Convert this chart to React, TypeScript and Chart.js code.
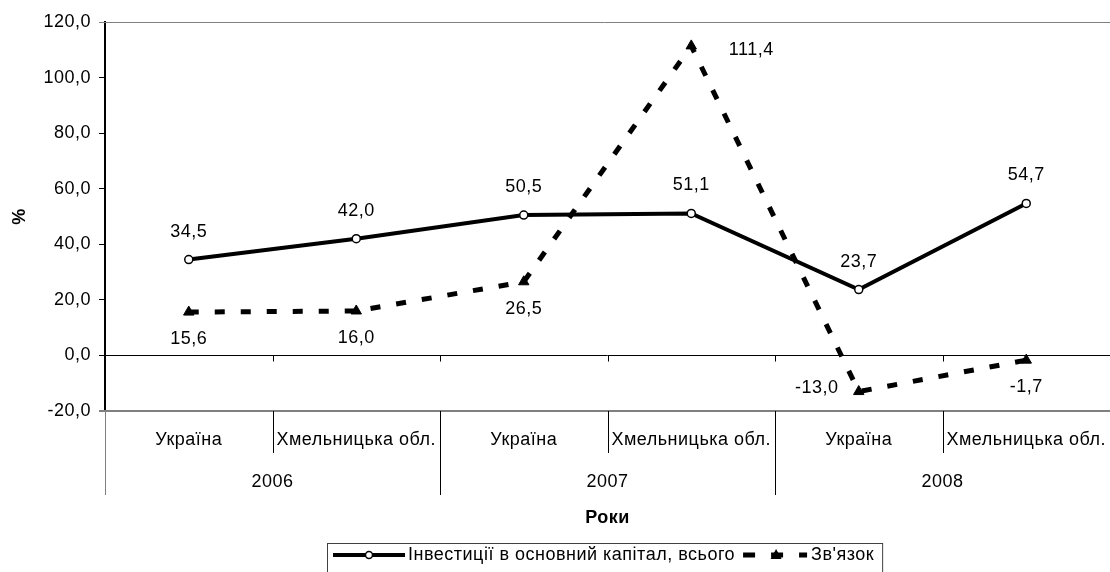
import React, { useEffect, useRef } from 'react';
import { Chart, registerables } from 'chart.js';

Chart.register(...registerables);

const categories = ['Україна', 'Хмельницька обл.', 'Україна', 'Хмельницька обл.', 'Україна', 'Хмельницька обл.'];
const years = ['2006', '2007', '2008'];
const investValues = [34.5, 42.0, 50.5, 51.1, 23.7, 54.7];
const commValues = [15.6, 16.0, 26.5, 111.4, -13.0, -1.7];
const commLabelSides = ['below', 'below', 'below', 'right', 'left', 'below'];
const seriesNames = ['Інвестиції в основний капітал, всього', "Зв'язок"];
const yMin = -20;
const yMax = 120;
const yStep = 20;
const xTitle = 'Роки';
const yTitle = '%';

const FAMILY = '"Liberation Sans", Arial, sans-serif';
const FONT = `18px ${FAMILY}`;
const BOLD = `bold 18px ${FAMILY}`;
const fmt = (v: number) => v.toFixed(1).replace('.', ',');

const decorPlugin = {
  id: 'decor',
  beforeDraw(chart: any) {
    (chart.ctx as any).letterSpacing = '0.5px';
  },
  beforeDatasetsDraw(chart: any) {
    const { ctx, chartArea: a, scales } = chart;
    const x = scales.x;
    const y = scales.y;
    ctx.save();
    ctx.strokeStyle = '#808080';
    ctx.lineWidth = 1;
    ctx.beginPath();
    ctx.moveTo(99, Math.round(a.top) + 0.5);
    ctx.lineTo(a.right, Math.round(a.top) + 0.5);
    ctx.stroke();
    ctx.lineWidth = 2;
    ctx.beginPath();
    ctx.moveTo(99, Math.round(a.bottom));
    ctx.lineTo(a.right, Math.round(a.bottom));
    ctx.stroke();
    const y0 = Math.round(y.getPixelForValue(0)) + 0.5;
    ctx.strokeStyle = '#000';
    ctx.lineWidth = 1;
    ctx.beginPath();
    ctx.moveTo(a.left, y0);
    ctx.lineTo(a.right, y0);
    for (let i = 0; i < categories.length - 1; i++) {
      const bx = Math.round((x.getPixelForValue(i) + x.getPixelForValue(i + 1)) / 2) + 0.5;
      ctx.moveTo(bx, y0);
      ctx.lineTo(bx, y0 + 6);
    }
    ctx.stroke();
    ctx.restore();
  },
  afterDatasetsDraw(chart: any) {
    const { ctx } = chart;
    ctx.save();
    ctx.font = FONT;
    ctx.fillStyle = '#000';
    ctx.textAlign = 'center';
    ctx.textBaseline = 'middle';
    const m0 = chart.getDatasetMeta(0);
    m0.data.forEach((p: any, i: number) => {
      ctx.fillText(fmt(investValues[i]), p.x, p.y - 28);
    });
    const m1 = chart.getDatasetMeta(1);
    m1.data.forEach((p: any, i: number) => {
      const side = commLabelSides[i];
      let dx = 0, dy = 27;
      if (side === 'right') { dx = 60; dy = 4; }
      if (side === 'left') { dx = -42; dy = -4; }
      ctx.fillText(fmt(commValues[i]), p.x + dx, p.y + dy);
    });
    ctx.restore();
  },
  afterDraw(chart: any) {
    const { ctx, chartArea: a, scales } = chart;
    const x = scales.x;
    const bottom = Math.round(a.bottom);
    ctx.save();
    const half = (x.getPixelForValue(1) - x.getPixelForValue(0)) / 2;
    ctx.lineWidth = 1;
    ctx.strokeStyle = '#808080';
    ctx.beginPath();
    ctx.moveTo(Math.round(a.left) + 0.5, bottom);
    ctx.lineTo(Math.round(a.left) + 0.5, 495);
    ctx.stroke();
    ctx.strokeStyle = '#000';
    ctx.beginPath();
    for (let i = 0; i < categories.length - 1; i++) {
      const bx = Math.round(x.getPixelForValue(i) + half) + 0.5;
      const isYear = i % 2 === 1;
      ctx.moveTo(bx, bottom);
      ctx.lineTo(bx, isYear ? 495 : 453);
    }
    ctx.stroke();
    ctx.font = FONT;
    ctx.fillStyle = '#000';
    ctx.textAlign = 'center';
    ctx.textBaseline = 'middle';
    categories.forEach((c, i) => {
      ctx.fillText(c, x.getPixelForValue(i), 440);
    });
    years.forEach((yr, j) => {
      const cx = (x.getPixelForValue(j * 2) + x.getPixelForValue(j * 2 + 1)) / 2;
      ctx.fillText(yr, cx, 482);
    });
    ctx.font = BOLD;
    ctx.fillText(xTitle, (a.left + a.right) / 2, 518);
    ctx.save();
    ctx.translate(20, (a.top + a.bottom) / 2);
    ctx.rotate(-Math.PI / 2);
    ctx.fillText(yTitle, 0, 0);
    ctx.restore();

    // legend
    ctx.font = FONT;
    const ly = 555;
    let cx = 333;
    ctx.strokeStyle = '#000';
    ctx.lineWidth = 4;
    ctx.setLineDash([]);
    ctx.beginPath();
    ctx.moveTo(cx, ly);
    ctx.lineTo(cx + 72, ly);
    ctx.stroke();
    ctx.lineWidth = 1.5;
    ctx.fillStyle = '#fff';
    ctx.beginPath();
    ctx.arc(cx + 36, ly, 3.5, 0, Math.PI * 2);
    ctx.fill();
    ctx.stroke();
    cx += 75;
    ctx.fillStyle = '#000';
    ctx.textAlign = 'left';
    ctx.fillText(seriesNames[0], cx, ly);
    cx += ctx.measureText(seriesNames[0]).width + 8;
    ctx.lineWidth = 5;
    ctx.setLineDash([12, 16]);
    ctx.beginPath();
    ctx.moveTo(cx, ly);
    ctx.lineTo(cx + 64, ly);
    ctx.stroke();
    ctx.setLineDash([]);
    ctx.beginPath();
    const tx = cx + 33;
    ctx.moveTo(tx, ly - 6);
    ctx.lineTo(tx + 5.5, ly + 4);
    ctx.lineTo(tx - 5.5, ly + 4);
    ctx.closePath();
    ctx.fill();
    cx += 68;
    ctx.fillText(seriesNames[1], cx, ly);
    cx += ctx.measureText(seriesNames[1]).width + 8;
    ctx.strokeStyle = '#404040';
    ctx.lineWidth = 1;
    ctx.strokeRect(327.5, 543.5, cx - 327, 40);
    ctx.restore();
  },
};

export default function App() {
  const ref = useRef<HTMLCanvasElement | null>(null);
  useEffect(() => {
    document.body.style.margin = '0';
    Chart.defaults.font.family = FAMILY;
    Chart.defaults.font.size = 18;
    Chart.defaults.color = '#000';
    const chart = new Chart(ref.current as HTMLCanvasElement, {
      type: 'line',
      data: {
        labels: categories,
        datasets: [
          {
            label: seriesNames[0],
            data: investValues,
            borderColor: '#000',
            borderWidth: 4,
            pointStyle: 'circle',
            pointRadius: 4,
            pointBackgroundColor: '#fff',
            pointBorderColor: '#000',
            pointBorderWidth: 1.5,
            tension: 0,
            order: 1,
          },
          {
            label: seriesNames[1],
            data: commValues,
            borderColor: '#000',
            borderWidth: 5,
            borderDash: [10, 16],
            borderCapStyle: 'butt',
            pointStyle: 'triangle',
            pointRadius: 6,
            pointBackgroundColor: '#000',
            pointBorderColor: '#000',
            pointBorderWidth: 1,
            tension: 0,
            order: 0,
          },
        ],
      },
      options: {
        animation: false,
        responsive: false,
        layout: { autoPadding: false, padding: { left: 0, right: 0, top: 22, bottom: 161 } },
        plugins: { legend: { display: false }, tooltip: { enabled: false } },
        scales: {
          x: { type: 'category', display: false, offset: true },
          y: {
            min: yMin,
            max: yMax,
            ticks: {
              stepSize: yStep,
              padding: 8,
              color: '#000',
              font: { size: 18, family: FAMILY },
              callback: (v: any) => fmt(Number(v)),
            },
            grid: { drawOnChartArea: false, drawTicks: true, tickLength: 6, color: '#000', lineWidth: 1 },
            border: { color: '#000', width: 2 },
            afterFit: (s: any) => { s.width = 105; },
          },
        },
      },
      plugins: [decorPlugin],
    } as any);
    return () => chart.destroy();
  }, []);
  return <canvas ref={ref} width={1110} height={572} style={{ display: 'block' }} />;
}
